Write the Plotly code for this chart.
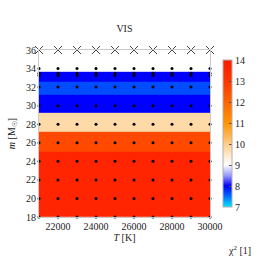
import plotly.graph_objects as go

# Model grid
temps = [21000, 22000, 23000, 24000, 25000, 26000, 27000, 28000, 29000, 30000]
masses = [18, 20, 22, 24, 26, 28, 30, 32, 33.25, 33.5, 34]
failed_mass = 36

# Chi^2 bands (mass band edges and values)
band_edges = [18, 25.0, 27.2, 29.2, 31.15, 32.6, 33.65]
band_chi2 = [13.6, 12.6, 9.75, 8.0, 7.65, 8.0]

x_ticks = [22000, 24000, 26000, 28000, 30000]
y_ticks = [18, 20, 22, 24, 26, 28, 30, 32, 34, 36]
cb_ticks = [7, 8, 9, 10, 11, 12, 13, 14]

colorscale = [
    [0.0, "#00e8ff"],
    [0.07, "#0070ff"],
    [0.143, "#0000ff"],
    [0.214, "#9898ff"],
    [0.286, "#ffffff"],
    [0.357, "#ffe8c8"],
    [0.43, "#ffcc88"],
    [0.5, "#ffb040"],
    [0.571, "#ff9600"],
    [0.714, "#ff6400"],
    [0.857, "#ff3600"],
    [1.0, "#ff1a00"],
]

font = "Liberation Serif, Times New Roman, serif"
tc = "#222"

fig = go.Figure()
fig.add_trace(go.Heatmap(
    x=[temps[0], temps[-1]],
    y=band_edges,
    z=[[v] for v in band_chi2],
    zmin=7, zmax=14,
    colorscale=colorscale,
    zsmooth=False,
    colorbar=dict(
        x=1.018, xanchor="left", y=0.5, yanchor="middle", len=1.0,
        thickness=9, outlinecolor="#b0b0b0", outlinewidth=1,
        tickvals=cb_ticks, ticks="inside", ticklen=3, tickcolor="#555",
        tickfont=dict(family=font, size=10, color=tc),
    ),
))

gx, gy = [], []
for m in masses:
    for t in temps:
        gx.append(t)
        gy.append(m)
fig.add_trace(go.Scatter(
    x=gx, y=gy, mode="markers",
    marker=dict(size=3, color="black"),
    cliponaxis=False, showlegend=False, hoverinfo="skip",
))
fig.add_trace(go.Scatter(
    x=temps, y=[failed_mass] * len(temps), mode="markers",
    marker=dict(size=8, symbol="x-thin", line=dict(width=1, color="#444")),
    cliponaxis=False, showlegend=False, hoverinfo="skip",
))

fig.update_layout(
    width=262, height=262,
    margin=dict(l=39, r=52, t=50, b=45, autoexpand=False),
    paper_bgcolor="white", plot_bgcolor="white",
    showlegend=False,
    title=dict(text="VIS", x=0.475, xanchor="center", y=0.89, yanchor="middle",
               font=dict(family=font, size=10, color=tc)),
    font=dict(family=font, size=10, color=tc),
    annotations=[dict(
        text="χ<sup>2</sup> [1]", xref="paper", yref="paper",
        x=1.17, y=-0.2, xanchor="center", yanchor="middle", showarrow=False,
        font=dict(family=font, size=10, color=tc),
    )],
)
fig.update_xaxes(
    range=[21000, 30000], tickvals=x_ticks, tickformat="d", showgrid=False, zeroline=False,
    showline=True, linecolor="#c8c8c8", mirror=True, ticks="", automargin=False,
    tickfont=dict(family=font, size=10, color=tc),
    title=dict(text="<i>T</i> [K]", standoff=2, font=dict(family=font, size=10, color=tc)),
)
fig.update_yaxes(
    range=[18, 36], tickvals=y_ticks, showgrid=False, zeroline=False,
    showline=True, linecolor="#c8c8c8", mirror=True, ticks="", automargin=False,
    tickfont=dict(family=font, size=10, color=tc),
    title=dict(text="<i>m</i> [M<sub>☉</sub>]", standoff=8, font=dict(family=font, size=10, color=tc)),
)

fig.write_html(
    "out.html",
    config={"displayModeBar": False},
    post_script="document.body.style.margin='0';document.body.style.padding='0';",
)
